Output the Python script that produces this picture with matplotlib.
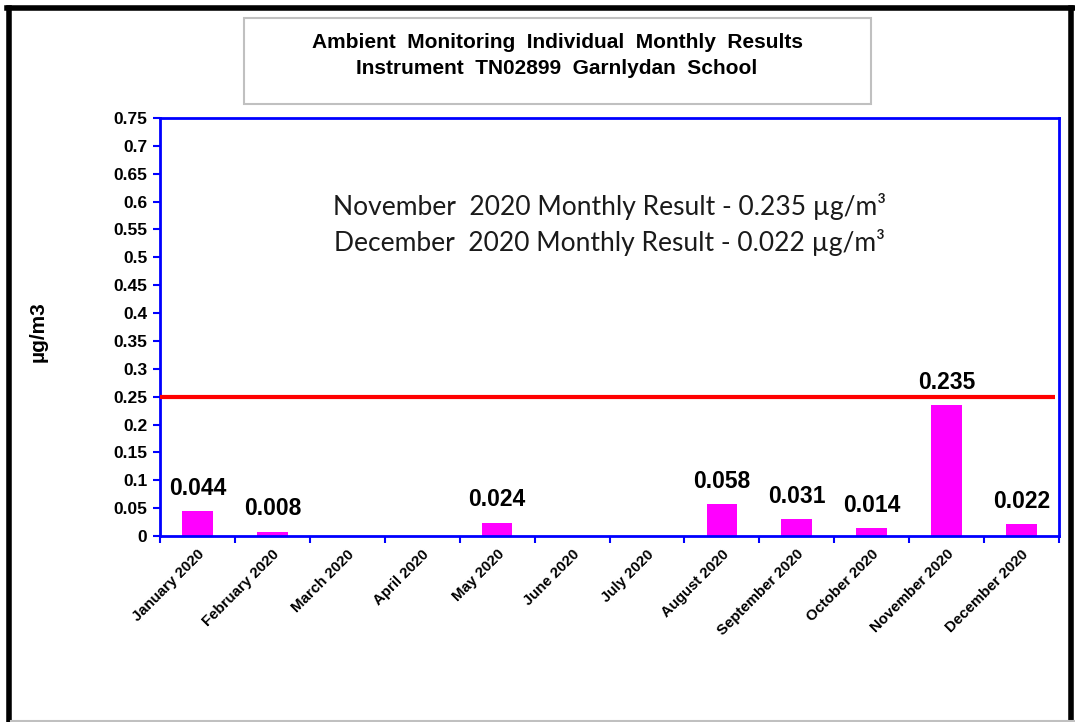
import matplotlib
matplotlib.use("Agg")
import matplotlib.pyplot as plt
from matplotlib.patches import Rectangle
from matplotlib.lines import Line2D

months = ["January 2020", "February 2020", "March 2020", "April 2020",
          "May 2020", "June 2020", "July 2020", "August 2020",
          "September 2020", "October 2020", "November 2020", "December 2020"]
values = [0.044, 0.008, 0, 0, 0.024, 0, 0, 0.058, 0.031, 0.014, 0.235, 0.022]
labels = ["0.044", "0.008", "", "", "0.024", "", "", "0.058",
          "0.031", "0.014", "0.235", "0.022"]
limit = 0.25
yticks = [0, 0.05, 0.1, 0.15, 0.2, 0.25, 0.3, 0.35, 0.4, 0.45,
          0.5, 0.55, 0.6, 0.65, 0.7, 0.75]
notes = ["November  2020 Monthly Result - 0.235 µg/m³",
         "December  2020 Monthly Result - 0.022 µg/m³"]

W, H = 1075, 722
fig = plt.figure(figsize=(W / 100, H / 100), dpi=100)
plt.rcParams["font.family"] = ["Liberation Sans", "DejaVu Sans"]

# plot area in pixels
left, right, top, bottom = 160, 1059, 118, 536
ax = fig.add_axes([left / W, 1 - bottom / H, (right - left) / W, (bottom - top) / H])

x = range(len(months))
ax.bar(x, values, width=0.41, color="#ff00ff", zorder=2)
for i, v in enumerate(values):
    if labels[i]:
        ax.text(i, v + 0.02, labels[i], ha="center", va="bottom",
                fontsize=16.5, fontweight="bold", color="black")

ax.plot([-0.5, 11.44], [limit, limit], color="#ff0000", lw=3, zorder=3,
        solid_capstyle="butt", clip_on=False)

ax.set_xlim(-0.5, 11.5)
ax.set_ylim(0, 0.75)
ax.set_yticks(yticks)
ax.set_yticklabels([f"{t:g}" for t in yticks], fontsize=12.5, fontweight="bold")
ax.set_xticks([i - 0.5 for i in range(13)])
ax.set_xticklabels([])
ax.set_xticks(list(x), minor=True)
ax.set_xticklabels(months, minor=True, rotation=45, ha="right",
                   rotation_mode="anchor", fontsize=10.8, fontweight="bold")
ax.tick_params(axis="x", which="minor", length=0, pad=8)
ax.tick_params(axis="both", which="major", color="#0000ff", width=1.5, length=5)
ax.tick_params(axis="y", pad=4)
for s in ax.spines.values():
    s.set_color("#0000ff")
    s.set_linewidth(2)

ax.set_ylabel("µg/m3", fontsize=15, fontweight="bold", labelpad=0)
ax.yaxis.set_label_coords((48 - left) / (right - left), 0.49)

for t, yv in zip(notes, [0.592, 0.5275]):
    ax.text(5.5, yv, t, fontsize=19, family=["Lato", "DejaVu Sans"],
            ha="center", va="center", color="#1a1a1a")

# title box
fig.patches.append(Rectangle((244 / W, 1 - 104 / H), (871 - 244) / W, (104 - 18) / H,
                             transform=fig.transFigure, fill=False,
                             edgecolor="#c0c0c0", lw=1.5))
fig.text(557 / W, 1 - 43 / H, "Ambient  Monitoring  Individual  Monthly  Results",
         ha="center", va="center", fontsize=15, fontweight="bold")
fig.text(557 / W, 1 - 68 / H, "Instrument  TN02899  Garnlydan  School",
         ha="center", va="center", fontsize=15, fontweight="bold")

# outer frame
fig.lines.append(Line2D([8.5 / W, 8.5 / W], [0, 1 - 7.5 / H], transform=fig.transFigure,
                        color="black", lw=4))
fig.lines.append(Line2D([6.5 / W, 1], [1 - 7.5 / H, 1 - 7.5 / H], transform=fig.transFigure,
                        color="black", lw=4))
fig.lines.append(Line2D([1071 / W, 1071 / W], [0, 1 - 7.5 / H], transform=fig.transFigure,
                        color="black", lw=4))
fig.lines.append(Line2D([11 / W, 1], [1.5 / H, 1.5 / H], transform=fig.transFigure,
                        color="#c0c0c0", lw=1.5))

fig.savefig("out.png", dpi=100)
